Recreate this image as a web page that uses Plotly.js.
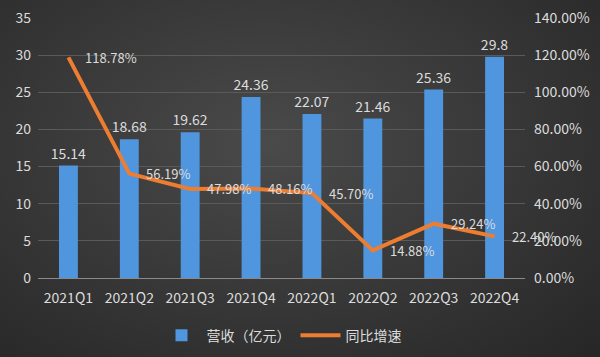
<!DOCTYPE html>
<html><head><meta charset="utf-8">
<script src="https://cdn.plot.ly/plotly-3.0.1.min.js"></script>
<style>
html,body{margin:0;padding:0;}
body{width:600px;height:357px;background:radial-gradient(ellipse at 45% 40%, #4a4a4a 0%, #3a3a3a 45%, #262626 100%);overflow:hidden;}
#chart{width:600px;height:357px;}
</style></head>
<body><div id="chart"></div>
<script>
const categories = ["2021Q1","2021Q2","2021Q3","2021Q4","2022Q1","2022Q2","2022Q3","2022Q4"];
const revenue = [15.14,18.68,19.62,24.36,22.07,21.46,25.36,29.8];
const growth = [118.78,56.19,47.98,48.16,45.70,14.88,29.24,22.40];
const revenueLabels = ["15.14","18.68","19.62","24.36","22.07","21.46","25.36","29.8"];
const growthLabels = ["118.78%","56.19%","47.98%","48.16%","45.70%","14.88%","29.24%","22.40%"];
const leftTicks = [0,5,10,15,20,25,30,35];
const rightTicks = [0,20,40,60,80,100,120,140];
const rightTickText = ["0.00%","20.00%","40.00%","60.00%","80.00%","100.00%","120.00%","140.00%"];

const txt = '#dcdcdc';
const font = "'Noto Sans CJK SC','Open Sans',sans-serif";

const traces = [
  {type:'bar', x:categories, y:revenue, name:'营收（亿元）', text:revenueLabels,
   textposition:'outside', constraintext:'none', textfont:{color:txt,size:14,family:font}, cliponaxis:false,
   marker:{color:'#4f96de'}, hoverinfo:'none'},
  {type:'scatter', mode:'lines', x:categories, y:growth, yaxis:'y2', name:'同比增速',
   line:{color:'#ed7d31',width:4}, cliponaxis:false, hoverinfo:'none'}
];

const annotations = categories.map((c,i)=>({
  x:c, y:growth[i], xref:'x', yref:'y2', text:growthLabels[i], showarrow:false,
  xanchor:'left', yanchor:'middle', xshift:15, font:{color:txt,size:13,family:font}
}));

const layout = {
  width:600, height:357,
  margin:{l:38,r:75,t:18,b:79, autoexpand:false},
  paper_bgcolor:'rgba(0,0,0,0)', plot_bgcolor:'rgba(0,0,0,0)',
  font:{family:font,color:txt,size:13},
  bargap:0.69,
  annotations:annotations,
  showlegend:true,
  legend:{orientation:'h', x:0.5, xanchor:'center', y:-0.16, yanchor:'top', itemwidth:40,
          font:{size:14,color:txt,family:font}, bgcolor:'rgba(0,0,0,0)'},
  xaxis:{type:'category', range:[-0.5,7.5], autorange:false, tickvals:categories, showgrid:false, showline:true, linecolor:'#8a8a8a', linewidth:1,
         ticks:'', tickfont:{size:14,color:txt}, ticklabelstandoff:7, fixedrange:true, automargin:false},
  yaxis:{range:[0,35], autorange:false, tickvals:leftTicks, showgrid:true, gridcolor:'#5a5a5a', gridwidth:1,
         zeroline:false, ticks:'', tickfont:{size:14,color:txt}, ticklabelstandoff:6, showline:false, automargin:false},
  yaxis2:{range:[0,140], autorange:false, overlaying:'y', side:'right', tickvals:rightTicks, ticktext:rightTickText,
          showgrid:false, zeroline:false, ticks:'', tickfont:{size:14,color:txt}, ticklabelstandoff:8, showline:false, automargin:false}
};

Plotly.newPlot('chart', traces, layout, {displayModeBar:false, staticPlot:true});
</script></body></html>
